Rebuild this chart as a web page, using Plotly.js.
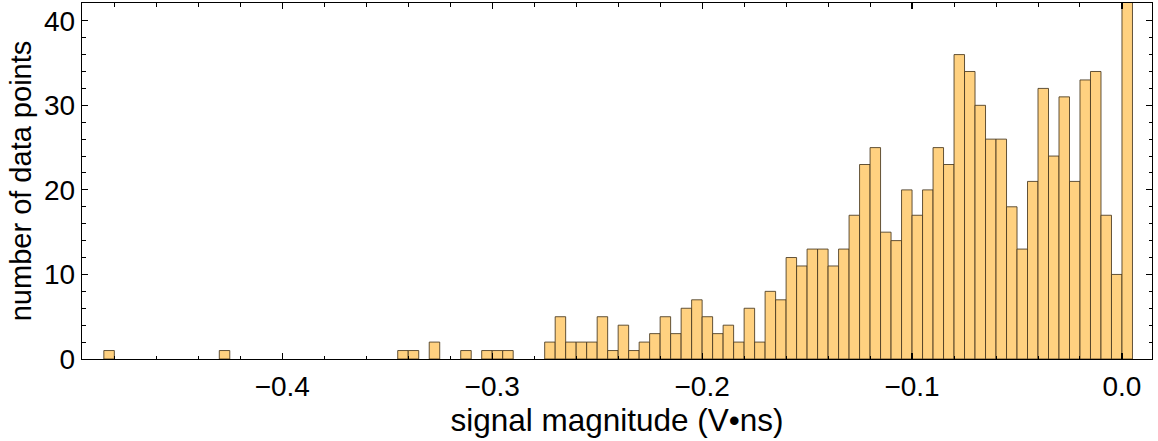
<!DOCTYPE html>
<html>
<head>
<meta charset="utf-8">
<script src="https://cdn.plot.ly/plotly-3.0.1.min.js"></script>
<style>html,body{margin:0;padding:0;background:#fff;}#chart{width:1158px;height:441px;}</style>
</head>
<body>
<div id="chart"></div>
<script>
// Histogram bins (left edges, width 0.005) with non-zero counts
const binLeft = [-0.485, -0.43, -0.345, -0.34, -0.33, -0.315, -0.305, -0.3, -0.295,
  -0.275, -0.27, -0.265, -0.26, -0.255, -0.25, -0.245, -0.24, -0.235, -0.23,
  -0.225, -0.22, -0.215, -0.21, -0.205, -0.2, -0.195, -0.19, -0.185, -0.18,
  -0.175, -0.17, -0.165, -0.16, -0.155, -0.15, -0.145, -0.14, -0.135, -0.13,
  -0.125, -0.12, -0.115, -0.11, -0.105, -0.1, -0.095, -0.09, -0.085, -0.08,
  -0.075, -0.07, -0.065, -0.06, -0.055, -0.05, -0.045, -0.04, -0.035, -0.03,
  -0.025, -0.02, -0.015, -0.01, -0.005, 0.0];
const counts = [1, 1, 1, 1, 2, 1, 1, 1, 1,
  2, 5, 2, 2, 2, 5, 1, 4, 1, 2,
  3, 5, 3, 6, 7, 5, 3, 4, 2, 6,
  2, 8, 7, 12, 11, 13, 13, 11, 13, 17,
  23, 25, 15, 14, 20, 17, 20, 25, 23, 36,
  34, 30, 26, 26, 18, 13, 21, 32, 24, 31,
  21, 33, 34, 17, 10, 44];
const binWidth = 0.005;
const xTickVals = [-0.4, -0.3, -0.2, -0.1, 0.0];
const xTickText = ['\u22120.4', '\u22120.3', '\u22120.2', '\u22120.1', '0.0'];
const yTickVals = [0, 10, 20, 30, 40];

const trace = {
  type: 'bar',
  x: binLeft,
  y: counts,
  width: binLeft.map(() => binWidth),
  offset: 0,
  marker: {color: '#FFD180', line: {color: 'rgba(70,55,30,0.85)', width: 1}},
  hoverinfo: 'x+y'
};

const fam = 'Liberation Sans, Arial, sans-serif';
const layout = {
  width: 1158, height: 441,
  margin: {l: 82, r: 6, t: 3, b: 82},
  paper_bgcolor: '#fff', plot_bgcolor: '#fff',
  showlegend: false,
  bargap: 0,
  font: {family: fam, color: '#000'},
  xaxis: {
    range: [-0.4954, 0.0143],
    automargin: false,
    tickvals: xTickVals, ticktext: xTickText,
    ticks: 'inside', ticklen: 6, tickwidth: 1.2, tickcolor: '#000',
    minor: {dtick: 0.02, tick0: 0, ticks: 'inside', ticklen: 3.5, tickwidth: 1, tickcolor: '#000'},
    showline: true, linecolor: '#000', linewidth: 1.3, mirror: 'ticks',
    showgrid: false, zeroline: false,
    tickfont: {size: 28, family: fam, color: '#000'},
    ticklabelstandoff: 2,
    title: {text: 'signal magnitude (V\u2022ns)', font: {size: 31.5, family: fam, color: '#000'}, standoff: 8}
  },
  yaxis: {
    range: [0, 42.1],
    automargin: false,
    tickvals: yTickVals,
    ticks: 'inside', ticklen: 6, tickwidth: 1.2, tickcolor: '#000',
    minor: {dtick: 2, tick0: 0, ticks: 'inside', ticklen: 3.5, tickwidth: 1, tickcolor: '#000'},
    showline: true, linecolor: '#000', linewidth: 1.3, mirror: 'ticks',
    showgrid: false, zeroline: false,
    tickfont: {size: 28, family: fam, color: '#000'},
    ticklabelstandoff: 0,
    title: {text: 'number of data points', font: {size: 29, family: fam, color: '#000'}, standoff: 3}
  }
};

Plotly.newPlot('chart', [trace], layout, {displayModeBar: false, staticPlot: true});
</script>
</body>
</html>
